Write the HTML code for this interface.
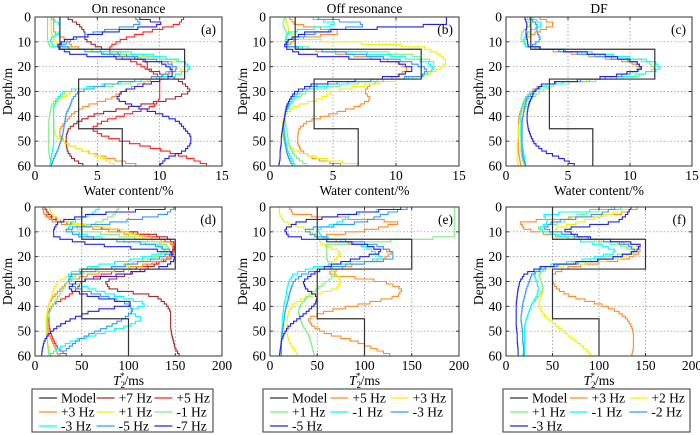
<!DOCTYPE html>
<html><head><meta charset="utf-8">
<style>
body{margin:0;background:#fff;}
svg{display:block;}
svg text{font-family:"Liberation Serif","DejaVu Serif","Times New Roman",serif;}
</style></head>
<body>
<svg id="fig" width="700" height="435" viewBox="0 0 700 435" xmlns="http://www.w3.org/2000/svg" font-family="Liberation Serif, DejaVu Serif, serif"></svg>
<script>
const depths=[0,3,6,9,12,15,18,21,24,27,30,33,36,39,42,45,48,51,54,57,60];
const modelDepths=[0,13,25,45,60];
const modelWater=[2,12,3.5,7];
const modelT2=[50,150,50,100];
const waterTicks=[0,5,10,15];
const t2Ticks=[0,50,100,150,200];
const depthTicks=[0,10,20,30,40,50,60];
const C={m:'#333',b7:'#a52a2a',r:'#ff2020',o:'#ff8c28',y:'#f2f200',g:'#80ee80',c:'#00ffff',lb:'#3399ff',bl:'#2222ee'};

const aLabels=['+7 Hz','+5 Hz','+3 Hz','+1 Hz','-1 Hz','-3 Hz','-5 Hz','-7 Hz'];
const aColors=[C.b7,C.r,C.o,C.y,C.g,C.c,C.lb,C.bl];
const aWater=[
[2.5,3.5,4,4,5,7,9,9,11,12,12.5,11,8,5,3.5,2.7,2.5,2.5,2.6,3,4],
[12,11.5,9,7,6,6,8,9,10,10,10,10,9.5,7.5,5.5,4.5,5.5,8,10.5,12.5,14],
[1.5,1.5,1.5,2.5,3,6,11,11,10,8.5,7,6,4,3,2.5,2,2,2.5,4,6,8.5],
[1.3,1.3,1.3,1.5,2,7,12,12,10,6,3,2,1.5,1.5,1.5,1.5,1.7,2.5,4,5.5,6.5],
[1,1,1,1,1.2,8,12,12.5,11,7,2.5,1.7,1.3,1.2,1.1,1.1,1.1,1.1,1.1,1.2,1.3],
[1.2,2,2,1.2,1.5,9,12,12.5,11,6,2.3,1.8,1.5,1.5,1.5,1.5,1.5,1.5,1.4,1.3,1.2],
[8,8.5,5,3,2,6,10.5,11.5,10,6,3.5,3,2.8,2.5,2.4,2.3,2.2,2,1.8,1.5,1.3],
[8,10.5,6,2.5,1.7,3,10,11,11,9,7,6.5,8,10,11.5,12,12.5,12.5,12,10.5,10]];
const aT2=[
[10,15,30,80,140,150,148,140,125,100,75,80,130,140,145,145,145,146,148,150,155],
[8,10,25,80,130,148,147,145,115,75,50,45,35,20,15,15,15,17,20,25,35],
[8,10,20,70,120,150,150,140,110,60,35,28,20,15,13,13,13,15,18,22,25],
[15,18,30,90,110,140,140,125,95,40,25,20,18,15,13,12,12,12,13,15,17],
[90,85,70,40,100,140,145,120,90,45,35,30,25,20,16,14,13,13,13,14,15],
[70,60,40,35,60,130,140,110,60,35,40,60,90,120,100,115,100,70,40,25,15],
[150,140,90,30,50,125,148,130,90,40,35,45,75,100,105,95,80,60,45,35,25],
[155,60,25,20,20,60,145,150,140,95,45,35,60,110,60,40,25,15,10,8,7]];

const bLabels=['+5 Hz','+3 Hz','+1 Hz','-1 Hz','-3 Hz','-5 Hz'];
const bColors=[C.o,C.y,C.g,C.c,C.lb,C.bl];
const bWater=[
[1.5,2,6,2,1.3,6,10,11,10,8,7.5,8,7,5,3,2.3,2.2,2.2,2.5,3.5,6],
[1.2,1.4,1.5,2.5,12,13.5,14,13.5,12,8,5,4,2,1.3,1,1,1,1.2,2,4,7.5],
[1.2,1,1.3,1.3,1.5,11,13,13,12,6,3,2,1.5,1.2,1.2,1.3,1.4,1.5,1.7,2.2,3],
[3,5.5,1.5,1.2,1.3,9,12.5,13,12,5,2.5,1.8,1.5,1.2,1.1,1.1,1.2,1.3,1.4,1.7,2],
[3,8,4,1.5,1.3,7,11,12.5,12,4,2.3,1.6,1.4,1.2,1.1,1.1,1.1,1.2,1.3,1.5,1.8],
[14,14,3,1.5,1.1,2.5,10,11.5,10,3.5,2,1.6,1.3,1.2,1.1,1,0.9,0.9,0.8,0.8,0.7]];
const bT2=[
[20,25,140,110,50,90,130,120,80,60,120,140,135,100,60,40,45,60,90,110,130],
[10,10,15,40,50,55,75,70,60,70,75,70,40,25,20,18,18,18,20,25,30],
[195,195,195,195,195,60,60,60,65,70,60,50,40,33,30,32,35,40,43,45,47],
[140,85,75,50,55,95,110,120,50,25,20,18,17,15,14,13,13,12,12,12,12],
[150,120,100,35,50,110,130,130,70,35,25,22,20,18,16,15,14,13,12,12,12],
[150,80,30,15,20,100,120,90,60,45,35,38,50,48,40,30,20,15,12,11,10]];

const cLabels=['+3 Hz','+2 Hz','+1 Hz','-1 Hz','-2 Hz','-3 Hz'];
const cColors=[C.o,C.y,C.g,C.c,C.lb,C.bl];
const cWater=[
[2.5,4,2.5,1.5,1.6,6,10,11,9,3,2,1.6,1.3,1.1,1,1,1,1,1,1.1,1.2],
[2,2,2,1.5,1.6,7,10.5,11,9.5,3.5,2.2,1.7,1.4,1.2,1.1,1,1,0.9,0.9,0.9,1],
[1.7,2,1.3,1.2,1.7,8,11.5,12,10.5,4,2.8,2,1.6,1.4,1.3,1.2,1.2,1.2,1.2,1.3,1.5],
[2,3,1.8,1.4,1.6,8,12,12.5,10,3.5,2,1.5,1.3,1.2,1.2,1.2,1.2,1.3,1.4,1.5,1.6],
[1.8,2.5,2.5,2.8,2,6.5,10.5,11,9,3,2.2,1.7,1.5,1.4,1.3,1.3,1.3,1.3,1.3,1.4,1.6],
[1.5,1.7,1.6,1.7,1.8,7.5,10.5,11,8.5,3,2.3,2,1.8,1.7,1.7,1.8,2,2.3,3,4.5,5.7]];
const cT2=[
[145,120,15,20,60,140,145,130,70,50,50,55,70,100,120,130,135,137,137,137,135],
[140,110,80,50,70,135,140,120,50,35,38,40,38,35,38,45,55,65,75,85,92],
[120,80,60,30,70,120,140,100,45,35,38,40,35,28,25,22,20,20,20,19,18],
[140,40,45,35,60,100,120,90,40,30,33,35,33,28,25,22,20,20,20,20,20],
[120,100,50,40,80,130,140,110,45,28,25,22,20,18,17,16,17,18,18,19,19],
[135,130,120,60,80,145,140,110,40,20,15,13,12,11,11,11,11,12,12,13,13]];

const NS='http://www.w3.org/2000/svg';
const FONT='Liberation Serif, DejaVu Serif, serif';
const svg=document.getElementById('fig');
function el(tag,attrs,parent){const e=document.createElementNS(NS,tag);for(const k in attrs)e.setAttribute(k,attrs[k]);(parent||svg).appendChild(e);return e;}
function txt(s,attrs,parent){attrs['font-family']=FONT;const t=el('text',attrs,parent);t.textContent=s;return t;}
function interp(vals,d){
  for(let k=0;k<depths.length-1;k++){
    if(d<=depths[k+1]){const f=(d-depths[k])/(depths[k+1]-depths[k]);return vals[k]+(vals[k+1]-vals[k])*f;}
  }
  return vals[vals.length-1];
}

function panel(id,box,xmax,xticks,series,colors,title,letter,xlabelType){
  const [L,R,T,B]=box;
  const g=el('g',{});
  
  
  const xs=v=>L+(R-L)*v/xmax, ys=d=>T+(B-T)*d/60;
  const grid=el('g',{},g);
  
  
  xticks.slice(1,-1).forEach(v=>el('line',{x1:xs(v),x2:xs(v),y1:T,y2:B,stroke:'#888','stroke-width':0.7,'stroke-dasharray':'1.5,2'},grid));
  depthTicks.slice(1,-1).forEach(d=>el('line',{x1:L,x2:R,y1:ys(d),y2:ys(d),stroke:'#888','stroke-width':0.7,'stroke-dasharray':'1.5,2'},grid));
  const clip='clip-'+id;
  const cp=el('clipPath',{id:clip},g);el('rect',{x:L,y:T,width:R-L,height:B-T},cp);
  const curves=el('g',{'clip-path':'url(#'+clip+')'},g);
  
  
  series.forEach((vals,i)=>{
    let p='';
    for(let d=0;d<60;d+=1){
      const x=xs(interp(vals,d+0.5));
      p+=(d?'L':'M')+x.toFixed(1)+','+ys(d).toFixed(1)+'L'+x.toFixed(1)+','+ys(d+1).toFixed(1);
    }
    const path=el('path',{d:p,fill:'none',stroke:colors[i],'stroke-width':1.1},curves);
    
    
  });
  const mv=xlabelType==='w'?modelWater:modelT2;
  let mp='';
  for(let k=0;k<mv.length;k++){mp+=(k?'L':'M')+xs(mv[k])+','+ys(modelDepths[k])+'L'+xs(mv[k])+','+ys(modelDepths[k+1]);}
  const mpath=el('path',{d:mp,fill:'none',stroke:C.m,'stroke-width':1.2},curves);
  
  
  const frame=el('rect',{x:L,y:T,width:R-L,height:B-T,fill:'none',stroke:'#333','stroke-width':1},g);
  
  
  xticks.forEach(v=>{
    el('line',{x1:xs(v),x2:xs(v),y1:B,y2:B-3,stroke:'#333'},g);
    el('line',{x1:xs(v),x2:xs(v),y1:T,y2:T+3,stroke:'#333'},g);
    const t=txt(v,{x:xs(v),y:B+14,'font-size':13.5,'text-anchor':'middle'},g);
    
    
  });
  depthTicks.forEach(d=>{
    el('line',{x1:L,x2:L+3,y1:ys(d),y2:ys(d),stroke:'#333'},g);
    el('line',{x1:R,x2:R-3,y1:ys(d),y2:ys(d),stroke:'#333'},g);
    const t=txt(d,{x:L-4,y:ys(d)+4.5,'font-size':13.5,'text-anchor':'end'},g);
    
    
  });
  const yl=txt('Depth/m',{x:0,y:0,'font-size':13.5,'text-anchor':'middle',transform:'translate('+(L-23)+','+((T+B)/2)+') rotate(-90)'},g);
  
  
  let xl;
  if(xlabelType==='w'){xl=txt('Water content/%',{x:(L+R)/2,y:B+29,'font-size':13.5,'text-anchor':'middle'},g);}
  else{
    xl=el('text',{x:(L+R)/2,y:B+29,'font-size':13.5,'text-anchor':'middle','font-family':FONT},g);
    const a=el('tspan',{'font-style':'italic'},xl);a.textContent='T';
    const b=el('tspan',{'font-size':9,dy:3},xl);b.textContent='2';
    const c=el('tspan',{'font-size':9,dy:-9,dx:-5},xl);c.textContent='*';
    const d=el('tspan',{dy:6},xl);d.textContent='/ms';
  }
  
  
  if(title){const t=txt(title,{x:(L+R)/2,y:T-4,'font-size':13.5,'text-anchor':'middle'},g);
    
    }
  const lt=txt(letter,{x:R-6,y:T+17,'font-size':13.5,'text-anchor':'end'},g);
  
  
}

function legend(id,bx,bw,labels,colors){
  const g=el('g',{});
  
  
  el('rect',{x:bx,y:389,width:bw,height:43,fill:'#fff',stroke:'#333','stroke-width':1},g);
  const all=['Model'].concat(labels), cols=[C.m].concat(colors);
  const colW=(bw-8)/3;
  all.forEach((lab,i)=>{
    const r=Math.floor(i/3),c=i%3;
    const x=bx+5+c*colW, y=398+r*14;
    const e=el('g',{},g);
    
    
    el('line',{x1:x+2,x2:x+20,y1:y,y2:y,stroke:cols[i],'stroke-width':1.3},e);
    txt(lab,{x:x+24,y:y+4.5,'font-size':13.5},e);
  });
}

panel('a',[35,222,17,166],15,waterTicks,aWater,aColors,'On resonance','(a)','w');
panel('b',[270,459,17,166],15,waterTicks,bWater,bColors,'Off resonance','(b)','w');
panel('c',[506,692,17,166],15,waterTicks,cWater,cColors,'DF','(c)','w');
panel('d',[35,222,207,356],200,t2Ticks,aT2,aColors,null,'(d)','t');
panel('e',[270,459,207,356],200,t2Ticks,bT2,bColors,null,'(e)','t');
panel('f',[506,692,207,356],200,t2Ticks,cT2,cColors,null,'(f)','t');
legend('a',32,181,aLabels,aColors);
legend('b',263,189,bLabels,bColors);
legend('c',503,187,cLabels,cColors);
</script>
</body></html>
